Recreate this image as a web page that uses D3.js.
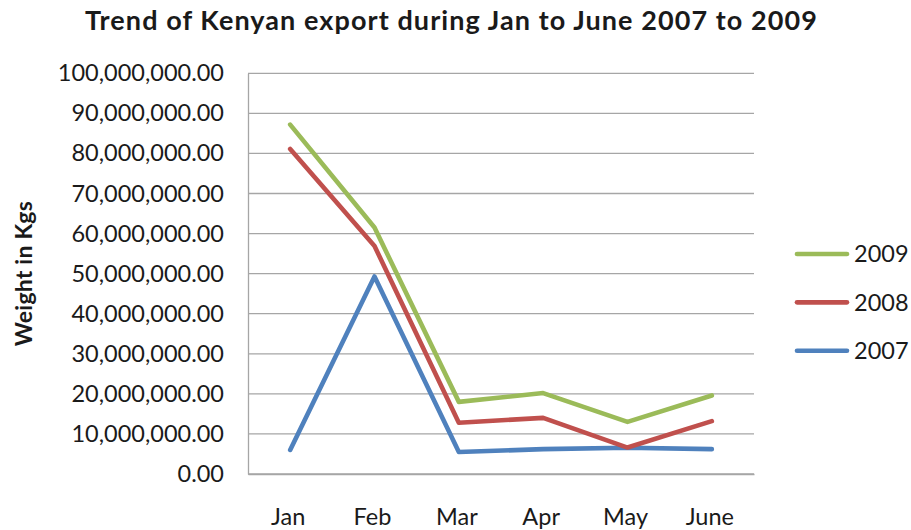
<!DOCTYPE html>
<html>
<head>
<meta charset="utf-8">
<script src="https://cdn.jsdelivr.net/npm/d3@7"></script>
<style>
  html, body { margin: 0; padding: 0; background: #fff; }
  svg { display: block; }
  text { font-family: Lato, "Open Sans", sans-serif; fill: #1a1a1a; }
</style>
</head>
<body>
<svg id="chart" width="911" height="530"></svg>
<script>
// Monthly export weight (kg) for each year
const months = ["Jan", "Feb", "Mar", "Apr", "May", "June"];
const exports2009 = [87200000, 61500000, 18000000, 20200000, 13000000, 19600000];
const exports2008 = [81100000, 56900000, 12800000, 14000000, 6600000, 13200000];
const exports2007 = [6000000, 49300000, 5500000, 6200000, 6550000, 6200000];
const yTicks = [0, 10000000, 20000000, 30000000, 40000000, 50000000, 60000000, 70000000, 80000000, 90000000, 100000000];

// Legend order (top to bottom)
const series = [
  { name: "2009", values: exports2009, color: "#9BBB59" },
  { name: "2008", values: exports2008, color: "#C0504D" },
  { name: "2007", values: exports2007, color: "#4F81BD" }
];

const svg = d3.select("#chart");
const plot = { left: 248, right: 754, top: 73.3, bottom: 474 };

const x = d3.scaleBand().domain(months).range([plot.left, plot.right]);
const y = d3.scaleLinear().domain([0, 100000000]).range([plot.bottom, plot.top]);

const fmt = d3.format(",.2f");
const labelSize = "23.5px";

// Horizontal gridlines
svg.append("g")
  .selectAll("line")
  .data(yTicks)
  .join("line")
  .attr("x1", plot.left).attr("x2", plot.right)
  .attr("y1", d => y(d)).attr("y2", d => y(d))
  .attr("stroke", "#a6a6a6").attr("stroke-width", 1.3);

// Y axis
const yAxis = svg.append("g")
  .attr("transform", `translate(${plot.left},0)`)
  .call(d3.axisLeft(y).tickValues(yTicks).tickFormat(fmt).tickSize(0).tickPadding(24));
yAxis.select(".domain").attr("stroke", "#a6a6a6").attr("stroke-width", 1.3);
yAxis.selectAll("text")
  .attr("font-size", labelSize)
  .attr("font-family", "Lato, sans-serif")
  .attr("fill", "#1a1a1a");

// X axis
const xAxis = svg.append("g")
  .attr("transform", `translate(-2,${plot.bottom})`)
  .call(d3.axisBottom(x).tickSize(0).tickPadding(34));
xAxis.select(".domain").attr("stroke", "#a6a6a6").attr("stroke-width", 1.3).attr("transform", "translate(2,0)");
xAxis.selectAll("text")
  .attr("font-size", labelSize)
  .attr("font-family", "Lato, sans-serif")
  .attr("fill", "#1a1a1a");

// Series lines
const line = d3.line()
  .x((d, i) => x(months[i]) + x.bandwidth() / 2)
  .y(d => y(d));

svg.append("g")
  .selectAll("path")
  .data(series.slice().reverse())
  .join("path")
  .attr("d", d => line(d.values))
  .attr("fill", "none")
  .attr("stroke", d => d.color)
  .attr("stroke-width", 4.6)
  .attr("stroke-linejoin", "round")
  .attr("stroke-linecap", "round");

// Legend
const legendY = d3.scalePoint().domain(series.map(s => s.name)).range([254, 350.7]);
const legend = svg.append("g")
  .selectAll("g")
  .data(series)
  .join("g")
  .attr("transform", d => `translate(0,${legendY(d.name)})`);
legend.append("line")
  .attr("x1", 797).attr("x2", 847)
  .attr("stroke", d => d.color)
  .attr("stroke-width", 4.6)
  .attr("stroke-linecap", "round");
legend.append("text")
  .attr("x", 854)
  .attr("dy", "0.36em")
  .attr("font-size", labelSize)
  .text(d => d.name);

// Title
svg.append("text")
  .attr("x", 451)
  .attr("y", 30)
  .attr("text-anchor", "middle")
  .attr("font-size", "27px")
  .attr("font-weight", "bold")
  .attr("textLength", 732)
  .attr("lengthAdjust", "spacing")
  .text("Trend of Kenyan export during Jan to June 2007 to 2009");

// Y axis title
svg.append("text")
  .attr("transform", `translate(32,${(plot.top + plot.bottom) / 2}) rotate(-90)`)
  .attr("text-anchor", "middle")
  .attr("font-size", "23px")
  .attr("font-weight", "bold")
  .attr("textLength", 145)
  .attr("lengthAdjust", "spacing")
  .text("Weight in Kgs");
</script>
</body>
</html>
